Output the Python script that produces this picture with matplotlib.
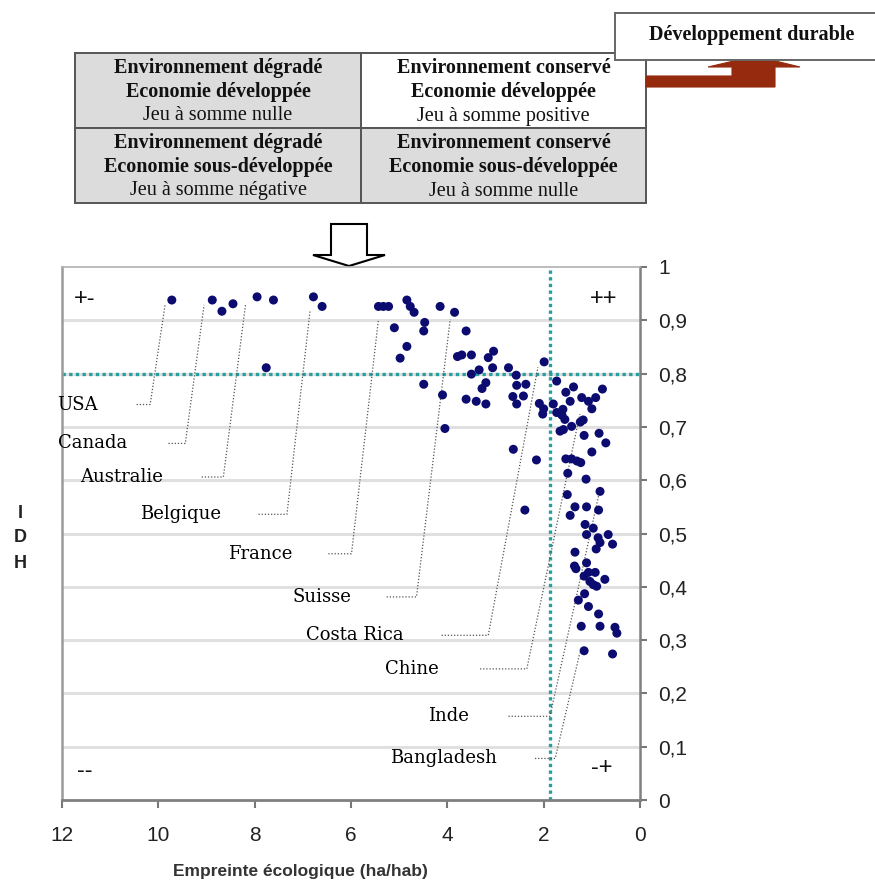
import matplotlib
matplotlib.use("Agg")
import matplotlib.pyplot as plt
from matplotlib.patches import Rectangle, Polygon

plt.rcParams['font.family'] = ['Liberation Sans', 'DejaVu Sans']

# Empreinte ecologique (ha/hab) et IDH
footprint = [9.72, 8.88, 8.68, 8.45, 7.95, 7.61, 7.76, 6.78, 6.60, 5.43, 5.33, 5.22,
             4.84, 4.77, 4.69, 4.15, 3.85, 5.10, 4.47, 4.49, 4.84, 4.98, 4.49, 4.10, 4.05,
             3.61, 3.79, 3.70, 3.50, 3.34, 3.50, 3.20, 3.28, 3.61, 3.40, 3.20, 3.15, 3.04,
             3.06, 2.73, 2.57, 2.56, 2.37, 2.64, 2.42, 2.56, 2.63, 2.15, 2.39, 1.99, 2.09,
             2.00, 2.02, 1.73, 1.80, 1.73, 1.62, 1.60, 1.56, 1.54, 1.38, 1.45, 1.66, 1.59,
             1.42, 1.24, 1.18, 1.21, 1.07, 1.00, 0.92, 0.78, 1.16, 0.85, 0.71, 1.54, 1.42,
             1.31, 1.23, 1.00, 1.50, 1.12, 1.51, 0.83, 1.35, 1.45, 1.11, 0.86,
             1.14, 0.97, 1.11, 0.87, 0.83, 0.66, 0.57, 0.91, 1.35, 1.36, 1.33, 1.11, 1.07,
             0.93, 1.16, 1.04, 0.97, 0.90, 0.73, 1.15, 1.28, 1.07, 0.86, 1.22, 0.83, 0.52,
             0.48, 1.16, 0.57]
idh = [0.938, 0.938, 0.917, 0.931, 0.944, 0.938, 0.811, 0.944, 0.926, 0.926, 0.926, 0.926,
       0.938, 0.926, 0.915, 0.926, 0.915, 0.886, 0.896, 0.880, 0.851, 0.829, 0.780, 0.760, 0.697,
       0.880, 0.832, 0.835, 0.835, 0.807, 0.799, 0.783, 0.772, 0.752, 0.748, 0.743, 0.830, 0.842,
       0.811, 0.811, 0.797, 0.778, 0.780, 0.757, 0.758, 0.743, 0.658, 0.638, 0.544, 0.822, 0.744,
       0.734, 0.724, 0.786, 0.743, 0.727, 0.722, 0.733, 0.714, 0.765, 0.775, 0.748, 0.692, 0.695,
       0.701, 0.709, 0.713, 0.755, 0.748, 0.734, 0.755, 0.771, 0.684, 0.688, 0.670, 0.640, 0.640,
       0.636, 0.633, 0.653, 0.613, 0.602, 0.573, 0.579, 0.550, 0.534, 0.550, 0.544,
       0.517, 0.510, 0.498, 0.492, 0.483, 0.498, 0.480, 0.471, 0.465, 0.439, 0.434, 0.445, 0.427,
       0.427, 0.420, 0.410, 0.404, 0.401, 0.414, 0.387, 0.375, 0.363, 0.349, 0.326, 0.326, 0.324,
       0.313, 0.280, 0.274]

# etiquettes des pays et traits de rappel
countries = ['USA', 'Canada', 'Australie', 'Belgique', 'France', 'Suisse',
             'Costa Rica', 'Chine', 'Inde', 'Bangladesh']
label_x = [12.10, 12.08, 11.63, 10.38, 8.55, 7.22, 6.93, 5.29, 4.40, 5.19]
label_y = [0.742, 0.669, 0.606, 0.536, 0.462, 0.381, 0.309, 0.246, 0.157, 0.078]
lead_x0 = [10.45, 9.79, 9.10, 7.92, 6.47, 5.26, 4.12, 3.32, 2.73, 2.18]
lead_x1 = [10.17, 9.44, 8.65, 7.33, 5.99, 4.64, 3.15, 2.35, 1.87, 1.76]
lead_tx = [9.86, 9.05, 8.19, 6.85, 5.43, 3.94, 2.12, 1.25, 0.83, 1.25]
lead_ty = [0.929, 0.929, 0.929, 0.918, 0.902, 0.902, 0.812, 0.724, 0.583, 0.276]

quad_labels = ['+-', '++', '--', '-+']
quad_x = [11.52, 0.75, 11.52, 0.80]
quad_y = [0.94, 0.94, 0.055, 0.06]

idh_seuil = 0.8
empreinte_seuil = 1.87

xticks = [12, 10, 8, 6, 4, 2, 0]
yticks = [0, 0.1, 0.2, 0.3, 0.4, 0.5, 0.6, 0.7, 0.8, 0.9, 1]
ytick_labels = ['0', '0,1', '0,2', '0,3', '0,4', '0,5', '0,6', '0,7', '0,8', '0,9', '1']

table_cells = [
    ['Environnement dégradé', 'Economie développée', 'Jeu à somme nulle'],
    ['Environnement conservé', 'Economie développée', 'Jeu à somme positive'],
    ['Environnement dégradé', 'Economie sous-développée', 'Jeu à somme négative'],
    ['Environnement conservé', 'Economie sous-développée', 'Jeu à somme nulle'],
]
cell_fill = ['#dcdcdc', 'white', '#dcdcdc', '#dcdcdc']

fig = plt.figure(figsize=(8.75, 8.8), dpi=100)

# calque de fond en pixels pour le schema du haut
bg = fig.add_axes([0, 0, 1, 1])
bg.set_xlim(0, 875)
bg.set_ylim(880, 0)
bg.axis('off')

serif = ['Liberation Serif', 'DejaVu Serif']
col_x = [75, 361, 646]
row_y = [53, 128, 203]
for i, lines in enumerate(table_cells):
    c, r = i % 2, i // 2
    x0, x1 = col_x[c], col_x[c + 1]
    y0, y1 = row_y[r], row_y[r + 1]
    bg.add_patch(Rectangle((x0, y0), x1 - x0, y1 - y0, facecolor=cell_fill[i],
                           edgecolor='#555555', lw=1.4))
    for k, line in enumerate(lines):
        bg.text((x0 + x1) / 2, y0 + 15 + 24 * k, line, family=serif, fontsize=14.5,
                fontweight='bold' if k < 2 else 'normal', ha='center', va='center',
                color='#111111')

# fleche rouge vers le developpement durable (pointe cachee sous le cadre)
bg.add_patch(Polygon([(646, 76), (732, 76), (732, 67), (708, 67), (755, 56), (800, 67),
                      (775, 67), (775, 87), (646, 87)], closed=True,
                     facecolor='#952a0e', edgecolor='#952a0e', lw=0.8))
bg.add_patch(Rectangle((615, 13), 270, 47, facecolor='white', edgecolor='#666666', lw=1.4))
bg.text(752, 35, 'Développement durable', family=serif, fontsize=14.5, fontweight='bold',
        ha='center', va='center', color='#111111')

# fleche blanche vers le graphique
bg.add_patch(Polygon([(331, 224), (367, 224), (367, 255), (385, 255), (349, 266),
                      (313, 255), (331, 255)], closed=True, facecolor='white',
                     edgecolor='black', lw=1.5))

ax = fig.add_axes([62 / 875, 80 / 880, 578 / 875, 533 / 880])
ax.set_xlim(12, 0)
ax.set_ylim(0, 1)

for y in yticks[1:-1]:
    ax.axhline(y, color='#e0e0e0', lw=2.2, zorder=0)

ax.axhline(idh_seuil, color='#2a9d9f', lw=2.4, ls=(0, (1, 1)), zorder=2)
ax.axvline(empreinte_seuil, color='#2a9d9f', lw=2.4, ls=(0, (1, 1)), zorder=2)

ax.scatter(footprint, idh, s=42, color='#0b0b70', edgecolors='none', zorder=4)

for i, name in enumerate(countries):
    ax.text(label_x[i], label_y[i], name, family=['DejaVu Serif'], fontsize=13,
            ha='left', va='center', color='black', zorder=5)
    ax.plot([lead_x0[i], lead_x1[i], lead_tx[i]], [label_y[i], label_y[i], lead_ty[i]],
            color='#555555', lw=0.9, ls=(0, (1, 1.5)), zorder=3)

for lab, qx, qy in zip(quad_labels, quad_x, quad_y):
    ax.text(qx, qy, lab, fontsize=17, ha='center', va='center', color='#111111')

ax.yaxis.tick_right()
ax.set_xticks(xticks)
ax.set_xticklabels([str(t) for t in xticks])
ax.set_yticks(yticks)
ax.set_yticklabels(ytick_labels)
ax.tick_params(axis='y', direction='out', length=5, width=1.5, color='#777777',
               labelsize=15, pad=8, labelcolor='#222222')
ax.tick_params(axis='x', direction='out', length=6, width=1.5, color='#777777',
               labelsize=15, pad=13, labelcolor='#222222')
ax.spines['left'].set_color('#9a9a9a')
ax.spines['left'].set_linewidth(1.8)
ax.spines['bottom'].set_color('#808080')
ax.spines['bottom'].set_linewidth(2)
ax.spines['right'].set_color('#808080')
ax.spines['right'].set_linewidth(1.8)
ax.spines['top'].set_color('#b0b0b0')
ax.spines['top'].set_linewidth(1.2)

fig.text(173 / 875, 1 - 871 / 880, 'Empreinte écologique (ha/hab)', fontsize=12.5,
         fontweight='bold', color='#333333', ha='left', va='center')
for k, letter in enumerate('IDH'):
    fig.text(20 / 875, 1 - (513 + 25 * k) / 880, letter, fontsize=13, fontweight='bold',
             color='#222222', ha='center', va='center')

fig.savefig('out.png', dpi=100)
